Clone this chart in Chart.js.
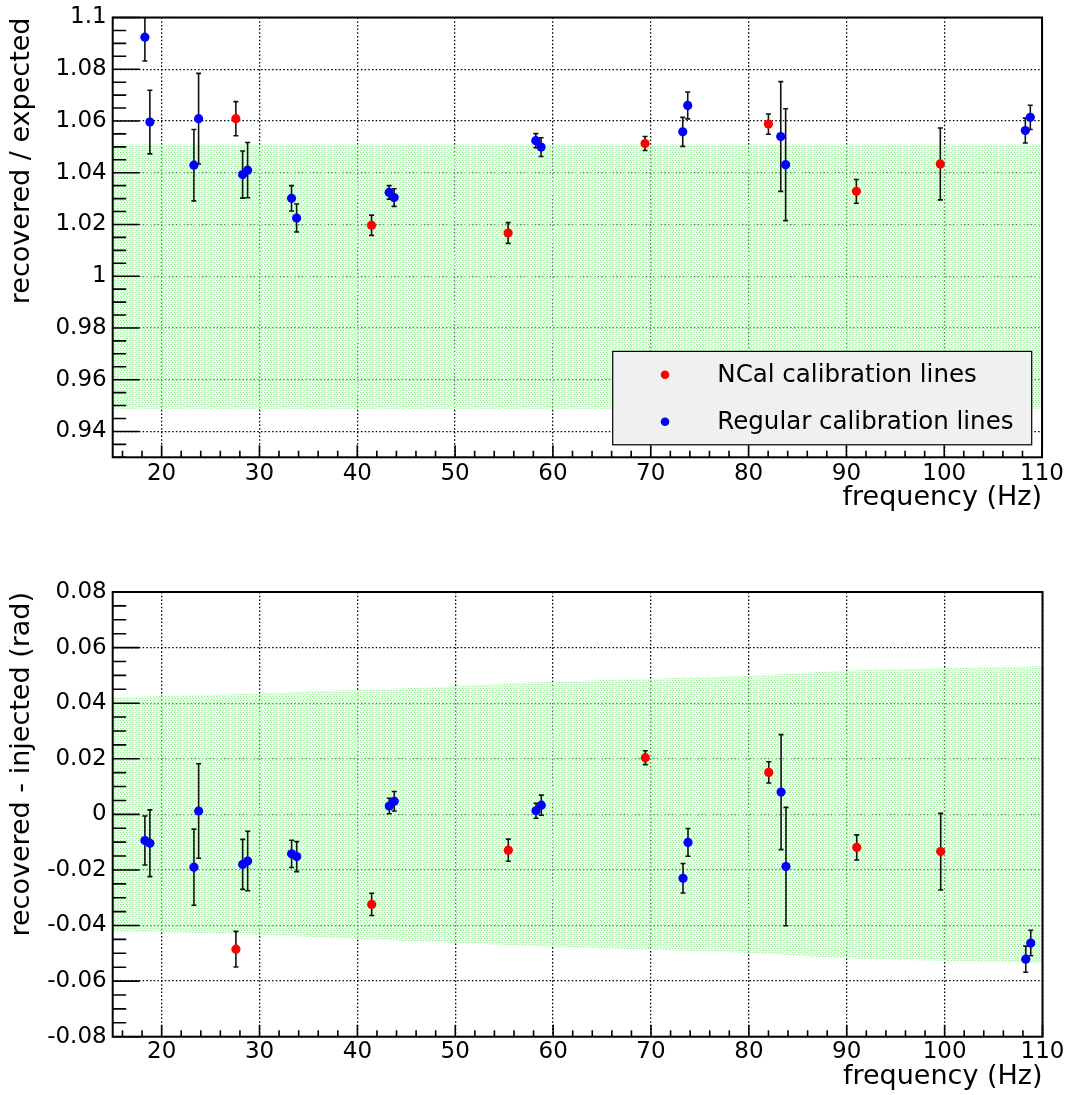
<!DOCTYPE html>
<html><head><meta charset="utf-8">
<script src="https://cdn.jsdelivr.net/npm/chart.js@4.4.1/dist/chart.umd.min.js"></script>
<style>
html,body{margin:0;padding:0;background:#fff;}
#wrap{position:relative;width:1068px;height:1095px;overflow:hidden;}
.pane{position:absolute;left:0;width:1068px;}
</style></head><body>
<div id="wrap">
<div class="pane" style="top:0;height:540px"><canvas id="c1" width="1068" height="540"></canvas></div>
<div class="pane" style="top:540px;height:555px"><canvas id="c2" width="1068" height="555"></canvas></div>
</div>
<script>
// ---------------- data ----------------
const ncalLabel = 'NCal calibration lines';
const regLabel = 'Regular calibration lines';

const ncalFreq = [27.59, 41.46, 55.42, 69.42, 82.03, 91.02, 99.6];
const ncalRatio = [1.0609, 1.0197, 1.0167, 1.0513, 1.0588, 1.0328, 1.0434];
const ncalRatioErr = [0.0066, 0.0039, 0.0040, 0.0027, 0.0039, 0.0046, 0.0139];
const ncalPhase = [-0.0485, -0.0324, -0.0129, 0.0204, 0.0151, -0.0119, -0.0134];
const ncalPhaseErr = [0.0064, 0.0040, 0.0040, 0.0025, 0.0038, 0.0045, 0.0138];

const regFreq = [18.29, 18.80, 23.30, 23.78, 28.28, 28.79, 33.28, 33.80, 43.26, 43.77, 58.25, 58.79, 73.27, 73.78, 83.29, 83.79, 108.29, 108.80];
const regRatio = [1.0924, 1.0596, 1.0429, 1.0609, 1.0393, 1.0410, 1.0301, 1.0225, 1.0324, 1.0304, 1.0524, 1.0499, 1.0558, 1.0660, 1.0540, 1.0431, 1.0563, 1.0614];
const regRatioErr = [0.0092, 0.0123, 0.0138, 0.0175, 0.0091, 0.0107, 0.0049, 0.0054, 0.0026, 0.0034, 0.0027, 0.0036, 0.0056, 0.0052, 0.0212, 0.0216, 0.0048, 0.0047];
const regPhase = [-0.0094, -0.0104, -0.0190, 0.0012, -0.0180, -0.0168, -0.0142, -0.0152, 0.0030, 0.0047, 0.0013, 0.0033, -0.0230, -0.0101, 0.0080, -0.0188, -0.0521, -0.0463];
const regPhaseErr = [0.0088, 0.0120, 0.0137, 0.0170, 0.0090, 0.0107, 0.0049, 0.0054, 0.0028, 0.0035, 0.0027, 0.0036, 0.0053, 0.0050, 0.0207, 0.0213, 0.0047, 0.0046];

// uncertainty bands
const ratioBandFreq = [15, 110];
const ratioBandUpper = [1.0509, 1.0509];
const ratioBandLower = [0.9488, 0.9488];
const phaseBandFreq = [15, 30, 47, 60, 80, 90, 110];
const phaseBandUpper = [0.0421, 0.0435, 0.0456, 0.0477, 0.0499, 0.0517, 0.0533];
const phaseBandLower = [-0.0420, -0.0434, -0.0458, -0.0476, -0.0498, -0.0518, -0.0534];

// axes
const xMin = 15, xMax = 110;
const xTickValues = [20, 30, 40, 50, 60, 70, 80, 90, 100, 110];
const xTickLabels = ['20', '30', '40', '50', '60', '70', '80', '90', '100', '110'];
const ratioMin = 0.93, ratioMax = 1.1;
const ratioTickValues = [0.94, 0.96, 0.98, 1.0, 1.02, 1.04, 1.06, 1.08, 1.1];
const ratioTickLabels = ['0.94', '0.96', '0.98', '1', '1.02', '1.04', '1.06', '1.08', '1.1'];
const phaseMin = -0.08, phaseMax = 0.08;
const phaseTickValues = [-0.08, -0.06, -0.04, -0.02, 0, 0.02, 0.04, 0.06, 0.08];
const phaseTickLabels = ['-0.08', '-0.06', '-0.04', '-0.02', '0', '0.02', '0.04', '0.06', '0.08'];

// ---------------- helpers ----------------
Chart.defaults.font.family = "'DejaVu Sans', sans-serif";
Chart.defaults.color = '#000';

function pts(xs, ys) { return xs.map((x, i) => ({x: x, y: ys[i]})); }

function makePattern() {
  const c = document.createElement('canvas');
  c.width = 6; c.height = 4;
  const g = c.getContext('2d');
  g.fillStyle = 'rgba(215,250,215,0.5)';
  g.fillRect(0, 0, 6, 4);
  g.fillStyle = 'rgb(140,240,140)';
  g.fillRect(0, 0, 1, 1); g.fillRect(3, 0, 1, 1);
  g.fillRect(1, 2, 1, 1); g.fillRect(4, 2, 1, 1);
  return g.createPattern(c, 'repeat');
}

function drawErrorBars(chart) {
  const {ctx, chartArea: a, scales: {x, y}} = chart;
  ctx.save();
  ctx.beginPath(); ctx.rect(a.left, a.top, a.right - a.left, a.bottom - a.top); ctx.clip();
  ctx.strokeStyle = '#111'; ctx.lineWidth = 1.6;
  chart.data.datasets.forEach(ds => {
    if (!ds.errors) return;
    ds.data.forEach((p, i) => {
      const e = ds.errors[i];
      const px = x.getPixelForValue(p.x);
      const yt = y.getPixelForValue(p.y + e);
      const yb = y.getPixelForValue(p.y - e);
      ctx.beginPath();
      ctx.moveTo(px, yt); ctx.lineTo(px, yb);
      ctx.moveTo(px - 2.5, yt); ctx.lineTo(px + 2.5, yt);
      ctx.moveTo(px - 2.5, yb); ctx.lineTo(px + 2.5, yb);
      ctx.stroke();
    });
  });
  ctx.restore();
}

function drawFrame(chart, opts) {
  const {ctx, chartArea: a, scales: {x, y}} = chart;
  ctx.save();
  ctx.strokeStyle = '#000'; ctx.lineWidth = 1.6;
  ctx.beginPath();
  const kx0 = Math.ceil(x.min / opts.xMinor - 1e-9), kx1 = Math.floor(x.max / opts.xMinor + 1e-9);
  for (let k = kx0; k <= kx1; k++) {
    const v = k * opts.xMinor;
    const major = (k % opts.xMajorEvery) === 0;
    const px = x.getPixelForValue(v);
    ctx.moveTo(px, a.bottom); ctx.lineTo(px, a.bottom - (major ? 12 : 6.5));
  }
  const ky0 = Math.ceil(y.min / opts.yMinor - 1e-9), ky1 = Math.floor(y.max / opts.yMinor + 1e-9);
  for (let k = ky0; k <= ky1; k++) {
    const v = k * opts.yMinor;
    const major = (((k % opts.yMajorEvery) + opts.yMajorEvery) % opts.yMajorEvery) === 0;
    const py = y.getPixelForValue(v);
    ctx.moveTo(a.left, py); ctx.lineTo(a.left + (major ? 27 : 13.5), py);
  }
  ctx.stroke();
  ctx.lineWidth = 2;
  ctx.strokeRect(a.left, a.top, a.right - a.left, a.bottom - a.top);
  ctx.restore();
}

function drawLegend(chart, opts) {
  const {ctx, chartArea: a} = chart;
  const L = opts.legend;
  const lx = a.left + L.left, ly = a.top + L.top;
  ctx.save();
  ctx.fillStyle = '#f0f0f0';
  ctx.fillRect(lx, ly, L.width, L.height);
  ctx.strokeStyle = '#000'; ctx.lineWidth = 1.2;
  ctx.strokeRect(lx, ly, L.width, L.height);
  ctx.font = "24.5px 'DejaVu Sans'";
  ctx.textBaseline = 'middle'; ctx.textAlign = 'left';
  L.items.forEach((di, j) => {
    const ds = chart.data.datasets[di];
    const cy = ly + L.firstRow + j * L.rowStep;
    ctx.fillStyle = ds.backgroundColor;
    ctx.beginPath(); ctx.arc(lx + L.markerX, cy, 4.3, 0, Math.PI * 2); ctx.fill();
    ctx.fillStyle = '#000';
    ctx.fillText(ds.label, lx + L.textX, cy + 1);
  });
  ctx.restore();
}

const rootStyle = {
  id: 'rootStyle',
  beforeDatasetDraw(chart, args) { if (args.index === 1) drawErrorBars(chart); },
  afterDraw(chart, args, opts) {
    drawFrame(chart, opts);
    if (opts.legend) drawLegend(chart, opts);
  }
};

function makeConfig(c) {
  const pattern = makePattern();
  return {
    type: 'scatter',
    data: {
      datasets: [
        {label: ncalLabel, data: pts(ncalFreq, c.ncalY), errors: c.ncalErr,
         backgroundColor: '#ff0000', borderWidth: 0, pointRadius: 4.6, pointHoverRadius: 4.6},
        {label: regLabel, data: pts(regFreq, c.regY), errors: c.regErr,
         backgroundColor: '#0000ff', borderWidth: 0, pointRadius: 4.6, pointHoverRadius: 4.6},
        {label: 'band upper', data: pts(c.bandFreq, c.bandUpper), showLine: true, fill: '+1',
         backgroundColor: pattern, borderWidth: 0, borderColor: 'rgba(0,0,0,0)', pointRadius: 0, tension: 0.3},
        {label: 'band lower', data: pts(c.bandFreq, c.bandLower), showLine: true, fill: false,
         borderWidth: 0, borderColor: 'rgba(0,0,0,0)', pointRadius: 0, tension: 0.3}
      ]
    },
    options: {
      responsive: false, animation: false, devicePixelRatio: 1,
      layout: {padding: {left: 0, right: 25.5, top: c.padTop, bottom: 0}},
      events: [],
      plugins: {
        legend: {display: false}, tooltip: {enabled: false},
        rootStyle: {xMinor: 2, xMajorEvery: 5, yMinor: 0.005, yMajorEvery: 4, legend: c.legend}
      },
      scales: {
        x: {
          type: 'linear', min: xMin, max: xMax, bounds: 'data',
          afterBuildTicks: s => { s.ticks = xTickValues.map(v => ({value: v})); },
          afterFit: s => { s.height = c.xAxisHeight; },
          ticks: {autoSkip: false, maxRotation: 0, minRotation: 0, padding: c.xTickPad,
                  font: {size: 23, lineHeight: 1.15}, color: '#000',
                  callback: (v, i) => xTickLabels[i]},
          grid: {color: '#000', lineWidth: 1.3, drawTicks: false},
          border: {display: false, dash: [1.5, 2.2]},
          title: {display: true, text: 'frequency (Hz)', align: 'end', color: '#000',
                  font: {size: 27}, padding: {top: 0, bottom: c.xTitlePad}}
        },
        y: {
          type: 'linear', min: c.yMin, max: c.yMax, bounds: 'data',
          afterBuildTicks: s => { s.ticks = c.yTicks.map(v => ({value: v})); },
          afterFit: s => { s.width = 112.7; },
          ticks: {autoSkip: false, padding: 6, font: {size: 23, lineHeight: 1.0}, color: '#000',
                  callback: (v, i) => c.yTickLabels[i]},
          grid: {color: '#000', lineWidth: 1.3, drawTicks: false},
          border: {display: false, dash: [1.5, 2.2]},
          title: {display: true, text: c.yTitle, align: 'end', color: '#000',
                  font: {size: 27}, padding: {top: 6, bottom: 0}}
        }
      }
    },
    plugins: [rootStyle]
  };
}

new Chart(document.getElementById('c1'), makeConfig({
  ncalY: ncalRatio, ncalErr: ncalRatioErr, regY: regRatio, regErr: regRatioErr,
  bandFreq: ratioBandFreq, bandUpper: ratioBandUpper, bandLower: ratioBandLower,
  yMin: ratioMin, yMax: ratioMax, yTicks: ratioTickValues, yTickLabels: ratioTickLabels,
  yTitle: 'recovered / expected', padTop: 13.4, xAxisHeight: 82.7, xTitlePad: 25.5, xTickPad: 4,
  legend: {left: 500, top: 333.9, width: 419, height: 93.4, markerX: 52.3, textX: 104.6,
           firstRow: 23.4, rowStep: 47, items: [0, 1]}
}));

new Chart(document.getElementById('c2'), makeConfig({
  ncalY: ncalPhase, ncalErr: ncalPhaseErr, regY: regPhase, regErr: regPhaseErr,
  bandFreq: phaseBandFreq, bandUpper: phaseBandUpper, bandLower: phaseBandLower,
  yMin: phaseMin, yMax: phaseMax, yTicks: phaseTickValues, yTickLabels: phaseTickLabels,
  yTitle: 'recovered - injected (rad)', padTop: 52, xAxisHeight: 58.3, xTitlePad: 2, xTickPad: 2,
  legend: null
}));
</script>
</body></html>
